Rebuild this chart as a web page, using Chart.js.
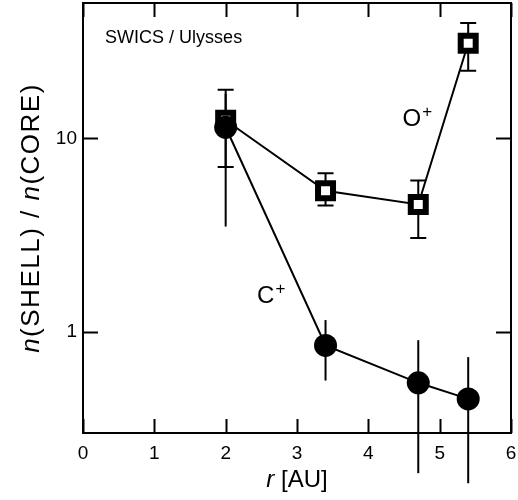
<!DOCTYPE html>
<html>
<head>
<meta charset="utf-8">
<script src="https://cdn.jsdelivr.net/npm/chart.js@4.4.0/dist/chart.umd.min.js"></script>
<style>
  html, body { margin: 0; padding: 0; background: #fff; }
</style>
</head>
<body>
<canvas id="chart" width="518" height="500"></canvas>
<script>
/* ---------- data ---------- */
const rAU = [2.0, 3.4, 4.7, 5.4];

const oPlus     = [12.4, 5.35, 4.55, 31.0];
const oPlusLow  = [7.1, 4.5, 3.05, 22.3];
const oPlusHigh = [17.8, 6.6, 6.05, 39.4];

const cPlus     = [11.4, 0.85, 0.545, 0.45];
const cPlusLow  = [3.5, 0.56, 0.186, 0.165];
const cPlusHigh = [17.0, 1.15, 0.905, 0.74];

const xTickLabels = [0, 1, 2, 3, 4, 5, 6];
const yTickLabels = [1, 10];

const FONT = '"Liberation Sans", Arial, Helvetica, sans-serif';

function pts(xs, ys) {
    return xs.map((v, i) => ({ x: v, y: ys[i] }));
}

// keep the plot box where the figure has it
function noPad(s) {
    s.paddingTop = 0;
    s.paddingBottom = 0;
    s.paddingLeft = 0;
    s.paddingRight = 0;
}

/* ---------- error bars, frame, inward ticks, labels ---------- */
const decor = {
    id: 'decor',
    beforeDatasetsDraw(chart) {
        const { ctx, scales: { x, y } } = chart;
        ctx.save();
        ctx.strokeStyle = '#000';
        ctx.lineWidth = 2;

        const bars = [
            { lo: oPlusLow, hi: oPlusHigh, cap: 8 },
            { lo: cPlusLow, hi: cPlusHigh, cap: 0 }
        ];
        bars.forEach(b => {
            rAU.forEach((r, i) => {
                const px = x.getPixelForValue(r);
                const y1 = y.getPixelForValue(b.lo[i]);
                const y2 = y.getPixelForValue(b.hi[i]);
                ctx.beginPath();
                ctx.moveTo(px, y1);
                ctx.lineTo(px, y2);
                if (b.cap) {
                    ctx.moveTo(px - b.cap, y1);
                    ctx.lineTo(px + b.cap, y1);
                    ctx.moveTo(px - b.cap, y2);
                    ctx.lineTo(px + b.cap, y2);
                }
                ctx.stroke();
            });
        });
        ctx.restore();
    },
    afterDraw(chart) {
        const { ctx, chartArea: a, scales: { x, y } } = chart;
        ctx.save();
        ctx.strokeStyle = '#000';
        ctx.lineWidth = 2;
        ctx.strokeRect(a.left, a.top, a.right - a.left, a.bottom - a.top);

        // x ticks (bottom + top)
        ctx.beginPath();
        x.ticks.forEach(t => {
            const px = Math.round(x.getPixelForValue(t.value)) + 0.5;
            const len = Number.isInteger(t.value) ? 14 : 7;
            ctx.moveTo(px, a.bottom);
            ctx.lineTo(px, a.bottom - len);
            ctx.moveTo(px, a.top);
            ctx.lineTo(px, a.top + len);
        });
        // y ticks (left + right)
        y.ticks.forEach(t => {
            const v = t.value;
            const py = Math.round(y.getPixelForValue(v)) + 0.5;
            const major = Math.abs(Math.log10(v) - Math.round(Math.log10(v))) < 1e-6;
            const len = major ? 15 : 8;
            ctx.moveTo(a.left, py);
            ctx.lineTo(a.left + len, py);
            ctx.moveTo(a.right, py);
            ctx.lineTo(a.right - len, py);
        });
        ctx.stroke();

        ctx.fillStyle = '#000';
        ctx.textBaseline = 'alphabetic';

        // inner caption
        ctx.font = '18px ' + FONT;
        ctx.textAlign = 'left';
        ctx.fillText('SWICS / Ulysses', x.getPixelForValue(0.31), y.getPixelForValue(31));

        // species labels with superscript
        function ion(sym, xv, yv) {
            const px = x.getPixelForValue(xv);
            const py = y.getPixelForValue(yv);
            ctx.font = '24px ' + FONT;
            ctx.fillText(sym, px, py);
            const w = ctx.measureText(sym).width;
            ctx.font = '17px ' + FONT;
            ctx.fillText('+', px + w + 1, py - 9);
        }
        ion('O', 4.48, 11.6);
        ion('C', 2.44, 1.41);

        // mixed italic / upright axis titles
        function mixed(parts, size, spacing) {
            ctx.letterSpacing = spacing + 'px';
            const widths = parts.map(p => {
                ctx.font = (p[1] ? 'italic ' : '') + size + 'px ' + FONT;
                return ctx.measureText(p[0]).width;
            });
            const total = widths.reduce((s, w) => s + w, 0);
            let cx = -total / 2;
            parts.forEach((p, i) => {
                ctx.font = (p[1] ? 'italic ' : '') + size + 'px ' + FONT;
                ctx.fillText(p[0], cx, 0);
                cx += widths[i];
            });
            ctx.letterSpacing = '0px';
        }
        ctx.textAlign = 'left';

        ctx.save();
        ctx.translate((a.left + a.right) / 2, 487);
        mixed([['r', true], [' [AU]', false]], 24, 0);
        ctx.restore();

        ctx.save();
        ctx.translate(39, (a.top + a.bottom) / 2);
        ctx.rotate(-Math.PI / 2);
        mixed([['n', true], ['(SHELL) / ', false], ['n', true], ['(CORE)', false]], 26, 1.5);
        ctx.restore();

        ctx.restore();
    }
};

new Chart(document.getElementById('chart'), {
    type: 'scatter',
    data: {
        datasets: [
            {
                label: 'C+',
                data: pts(rAU, cPlus),
                showLine: true,
                borderColor: '#000',
                borderWidth: 2,
                pointStyle: 'circle',
                pointRadius: 11.5,
                pointBackgroundColor: '#000',
                pointBorderWidth: 0,
                clip: false
            },
            {
                label: 'O+',
                data: pts(rAU, oPlus),
                showLine: true,
                borderColor: '#000',
                borderWidth: 2,
                pointStyle: 'rect',
                pointRadius: 10.6,
                pointBackgroundColor: '#fff',
                pointBorderColor: '#000',
                pointBorderWidth: 6,
                clip: false
            }
        ]
    },
    options: {
        responsive: false,
        animation: false,
        layout: { autoPadding: false, padding: { top: 3, right: 7, left: 0, bottom: 0 } },
        plugins: {
            legend: { display: false },
            tooltip: { enabled: false }
        },
        scales: {
            x: {
                type: 'linear',
                min: 0,
                max: 6,
                grid: { display: false, drawTicks: false },
                border: { display: false },
                ticks: {
                    stepSize: 0.5,
                    autoSkip: false,
                    maxRotation: 0,
                    padding: 9,
                    color: '#000',
                    font: { family: FONT, size: 19 },
                    callback: v => xTickLabels.includes(v) ? String(v) : null
                },
                afterFit(s) { s.height = 67; noPad(s); }
            },
            y: {
                type: 'logarithmic',
                min: 0.3,
                max: 50,
                grid: { display: false, drawTicks: false },
                border: { display: false },
                ticks: {
                    autoSkip: false,
                    padding: 6,
                    color: '#000',
                    font: { family: FONT, size: 19 },
                    callback: v => yTickLabels.includes(v) ? String(v) : null
                },
                afterFit(s) { s.width = 83; noPad(s); }
            }
        }
    },
    plugins: [decor]
});
</script>
</body>
</html>
